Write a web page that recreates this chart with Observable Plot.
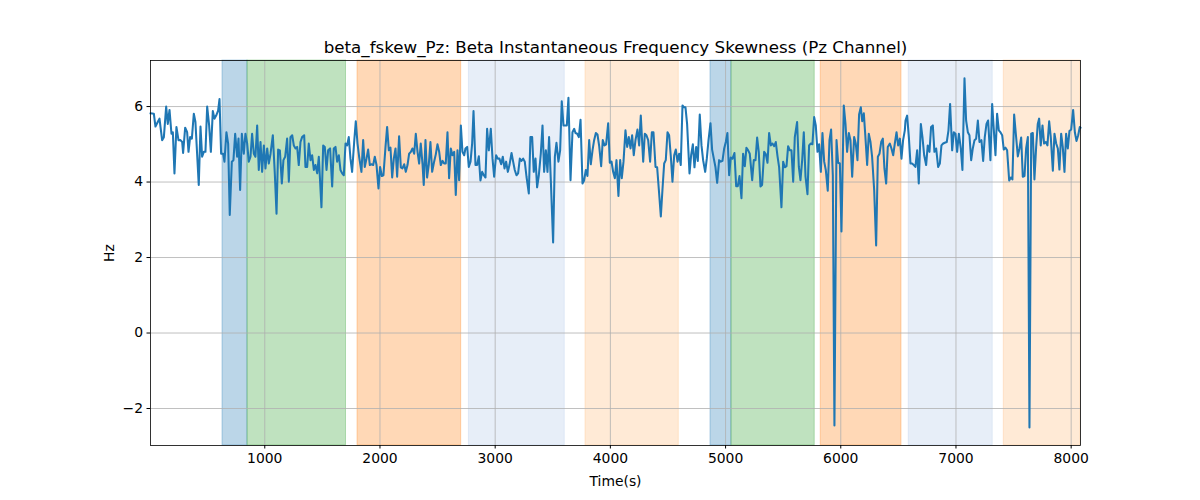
<!DOCTYPE html>
<html>
<head>
<meta charset="utf-8">
<script src="https://cdn.jsdelivr.net/npm/d3@7"></script>
<script src="https://cdn.jsdelivr.net/npm/@observablehq/plot@0.6"></script>
<style>
  html, body { margin: 0; padding: 0; background: white; }
  #chart svg { display: block; }
</style>
</head>
<body>
<div id="chart"></div>
<script>
const titleText = "beta_fskew_Pz: Beta Instantaneous Frequency Skewness (Pz Channel)";
const xLabel = "Time(s)";
const yLabel = "Hz";
const xTicks = [1000, 2000, 3000, 4000, 5000, 6000, 7000, 8000];
const yTicks = [-2, 0, 2, 4, 6];

const bandStart = [633, 850, 1805, 2772, 3784, 4869, 5051, 5826, 6590, 7415];
const bandEnd   = [850, 1705, 2705, 3604, 4594, 5051, 5774, 6527, 7319, 8081];
const bandState = ["S1", "S2", "S3", "S4", "S5", "S1", "S2", "S3", "S4", "S5"];
const stateNames = ["S1", "S2", "S3", "S4", "S5"];

const timeS = [
  8,37,51,71,86,109,124,144,158,173,190,202,216,233,251,268,283,291,309,326,338,352,367,384,398,427,442,456,471,485,500,517,532,549,563,578,595,607,621,639,650,667,682,696,714,728,743,760,772,786,801,818,832,847,861,876,890,905,919,
  934,948,963,977,992,1006,1021,1035,1050,1070,1087,1102,1116,1131,1148,1162,1177,1194,1209,1223,1238,1252,1267,1281,1295,1310,1324,1342,1353,1368,1382,1397,1411,1426,1440,1455,1469,1492,1507,1521,1536,1550,1567,1585,1599,1614,1628,1643,1657,1672,1686,1701,1715,1729,1744,1758,1776,1790,1805,1819,
  1839,1854,1868,1883,1897,1912,1926,1941,1955,1970,1987,2001,2016,2030,2048,2062,2077,2091,2106,2120,2135,2149,2166,2181,2195,2210,2224,2239,2253,2268,2282,2297,2311,2326,2340,2354,2369,2380,2395,2409,2424,2438,2453,2470,2485,2499,2514,2528,2543,2557,2571,2586,2600,2615,2629,2644,2658,2673,2687,2702,2716,2731,
  2742,2757,2771,2786,2800,2812,2829,2843,2858,2872,2887,2901,2916,2930,2945,2962,2977,2991,3008,3023,3037,3052,3066,3081,3095,3110,3124,3142,3156,3170,3185,3199,3214,3228,3243,3257,3272,3292,3306,3321,3335,3350,3364,3379,3396,3411,3425,3440,3454,3468,3483,3503,3518,3532,3549,3564,3578,3593,3607,3622,3636,3654,3671,3686,
  3697,3712,3726,3741,3758,3772,3787,3801,3816,3830,3845,3859,3874,3888,3903,3920,3934,3949,3963,3981,3995,4010,4024,4039,4053,4070,4085,4099,4114,4131,4146,4160,4175,4189,4203,4218,4235,4250,4264,4285,4299,4313,4328,4345,4360,4374,4392,4406,4421,4438,4452,4467,4481,4496,4510,4525,4539,4554,4568,4583,4597,4611,4626,4640,
  4652,4666,4687,4701,4716,4730,4745,4759,4776,4791,4805,4823,4837,4852,4869,4883,4898,4912,4927,4944,4959,4973,4988,5002,5016,5031,5045,5060,5077,5092,5106,5121,5138,5152,5167,5181,5196,5210,5231,5245,5260,5274,5288,5303,5317,5335,5349,5364,5378,5393,5407,5422,5436,5451,5465,5485,5500,5514,5529,5543,5558,5572,5587,5601,
  5621,5636,5650,5665,5679,5694,5711,5725,5740,5754,5769,5783,5798,5812,5827,5841,5856,5870,5887,5902,5916,5931,5945,5963,5977,5992,6006,6026,6041,6055,6070,6084,6099,6116,6130,6145,6159,6174,6186,6200,6214,6229,6243,6258,6272,6290,6307,6322,6336,6351,6365,6379,6394,6408,6426,6440,6455,6469,6484,6498,6513,6527,6541,6556,
  6562,6576,6591,6605,6619,6634,6648,6663,6677,6695,6709,6724,6741,6755,6770,6784,6799,6813,6828,6845,6860,6874,6889,6903,6920,6935,6949,6967,6981,6996,7010,7025,7042,7056,7074,7088,7103,7117,7132,7146,7161,7175,7190,7204,7221,7236,7250,7265,7279,7299,7314,7328,7343,7357,7372,7386,
  7401,7415,7430,7444,7462,7476,7490,7505,7519,7537,7551,7566,7580,7595,7609,7624,7638,7653,7667,7681,7696,7710,7722,7736,7751,7765,7780,7794,7809,7823,7841,7855,7870,7884,7898,7913,7927,7942,7956,7971,7985,8000,8017,8032,8046,8061,8075,8081
];

const skewHz = [
  5.82,5.81,5.47,5.59,5.68,5.11,5.19,6.00,5.54,5.91,5.28,5.32,4.23,5.46,5.11,5.11,5.06,4.77,5.44,5.32,4.80,5.19,5.15,5.81,5.59,3.92,5.47,4.67,4.80,4.80,6.00,5.50,4.80,5.88,5.68,5.76,5.89,6.20,4.75,4.75,4.54,5.32,5.02,3.13,4.54,4.58,5.28,4.67,5.15,3.79,5.28,4.75,5.28,5.02,4.54,4.67,5.28,4.75,4.67,
  5.50,4.32,5.06,4.27,4.97,4.36,4.89,4.49,4.75,5.24,4.23,3.16,4.86,4.84,3.96,4.58,4.67,5.15,4.01,5.19,5.24,4.97,4.89,4.93,4.45,5.06,5.19,5.24,4.40,4.40,5.02,4.58,4.71,4.32,4.45,4.23,4.67,3.33,4.97,4.93,4.32,4.84,4.89,3.88,4.89,4.93,4.54,4.71,4.32,4.23,4.18,5.02,4.97,5.19,4.62,4.27,5.06,5.61,5.02,4.67,
  4.27,5.11,4.40,4.62,4.86,4.45,4.47,4.45,4.67,4.45,3.83,4.40,4.16,4.18,4.93,5.46,4.84,4.91,4.12,4.62,4.89,4.14,5.21,4.39,4.36,4.47,4.27,4.45,4.75,4.80,4.89,4.75,5.28,4.80,4.49,5.02,4.49,3.92,5.11,4.12,4.47,5.06,4.27,4.54,4.74,5.00,4.80,4.45,4.56,4.49,4.49,5.32,4.10,4.89,4.71,4.80,3.66,4.84,4.05,5.50,4.80,4.71,
  4.89,4.93,4.40,4.54,5.02,5.88,4.45,4.45,4.68,4.04,4.27,4.18,4.12,5.41,4.84,5.41,4.62,4.14,4.71,4.62,4.62,4.47,4.67,4.36,4.54,4.27,4.45,4.77,4.54,4.32,4.18,4.23,4.62,4.56,4.62,4.54,4.14,3.70,5.19,5.19,4.27,4.62,3.86,4.18,4.75,5.50,4.27,4.84,4.27,5.19,4.05,2.40,4.67,5.04,4.54,4.84,6.14,5.50,5.50,5.50,6.23,4.05,5.32,5.41,
  5.30,5.28,5.19,5.65,3.96,4.04,4.32,4.16,5.11,4.47,4.84,5.11,5.30,5.26,4.95,4.42,5.11,4.97,5.00,5.56,4.51,4.54,4.27,4.10,4.58,3.63,4.58,4.10,4.54,5.37,4.93,5.19,4.89,5.24,4.71,5.11,5.39,4.97,5.76,4.54,5.28,5.24,5.11,4.54,5.32,5.32,4.40,4.39,3.79,3.09,3.79,4.49,4.58,5.32,5.24,4.67,4.01,4.71,4.86,4.54,4.75,4.45,6.03,5.98,
  5.98,5.54,4.23,4.71,5.00,4.39,4.93,4.56,5.79,4.97,4.58,4.27,4.62,5.11,5.56,4.86,4.62,4.40,3.98,4.58,4.54,4.56,4.89,5.06,5.30,4.18,4.65,4.62,4.77,3.89,3.89,4.16,3.57,4.75,4.42,4.91,4.84,4.75,4.05,4.58,4.58,5.18,4.80,3.88,3.92,4.80,4.74,4.51,5.30,4.97,5.02,4.95,5.06,4.68,4.39,3.33,4.54,4.39,4.42,4.95,4.84,4.84,4.01,5.19,
  5.59,4.40,4.05,4.58,5.32,4.14,3.68,4.97,5.02,5.00,5.72,5.50,4.80,5.00,4.27,5.30,4.54,4.32,3.77,5.11,5.39,4.18,-2.45,5.11,4.51,4.49,2.69,6.03,5.54,4.80,5.30,5.11,4.14,5.19,5.02,4.58,5.79,5.98,5.61,5.82,5.19,4.45,5.28,5.06,4.67,3.79,2.32,4.67,4.75,5.06,5.15,4.36,3.96,4.93,5.02,4.89,4.71,5.02,5.32,4.97,5.15,4.62,5.11,5.37,
  5.63,5.76,5.19,4.49,4.49,4.45,4.40,4.84,3.96,5.54,5.19,4.71,4.45,4.97,4.80,5.46,5.50,4.80,4.89,4.40,4.49,4.97,5.02,5.04,5.06,5.37,6.07,4.84,5.32,5.28,4.80,5.28,4.89,4.32,6.75,5.63,5.32,5.24,4.58,4.89,5.11,5.15,5.63,5.06,5.11,4.56,5.19,5.54,5.63,4.58,6.07,5.41,4.71,5.81,5.37,5.32,
  5.24,4.86,4.91,4.84,4.04,4.12,4.07,5.79,5.30,4.68,4.89,5.18,4.14,4.16,4.89,5.19,-2.50,5.28,5.30,4.07,4.93,5.54,5.68,4.97,5.50,5.02,5.06,4.97,5.61,5.19,4.30,5.28,5.02,4.89,4.33,5.28,4.93,4.27,5.28,4.89,5.35,5.39,5.91,5.32,5.09,5.24,5.46,5.44
];

const n = Math.min(timeS.length, skewHz.length);
const series = d3.range(n).map(i => ({t: timeS[i], v: skewHz[i]}));
const bands = bandStart.map((s, i) => ({start: s, end: bandEnd[i], state: bandState[i]}));

const minusFmt = d => (d < 0 ? "\u2212" + Math.abs(d) : String(d));

const chart = Plot.plot({
  width: 1200,
  height: 500,
  marginLeft: 150,
  marginRight: 120,
  marginTop: 60,
  marginBottom: 55,
  style: {fontFamily: "'DejaVu Sans', sans-serif", fontSize: "13.9px", background: "white", color: "black"},
  x: {domain: [8, 8081]},
  y: {domain: [-2.98, 7.22]},
  color: {domain: stateNames, range: ["#1f77b4", "#2ca02c", "#ff7f0e", "#aec7e8", "#ffbb78"]},
  marks: [
    Plot.rect(bands, {x1: "start", x2: "end", fill: "state", fillOpacity: 0.3, stroke: "state", strokeOpacity: 0.3, strokeWidth: 1}),
    Plot.gridX(xTicks, {stroke: "#b0b0b0", strokeOpacity: 1, strokeWidth: 0.8}),
    Plot.gridY(yTicks, {stroke: "#b0b0b0", strokeOpacity: 1, strokeWidth: 0.8}),
    Plot.line(series, {x: "t", y: "v", stroke: "#1f77b4", strokeWidth: 2.05}),
    Plot.frame({stroke: "black", strokeWidth: 0.8}),
    Plot.axisX(xTicks, {tickSize: 3.5, tickPadding: 4, tickFormat: minusFmt, label: xLabel, labelAnchor: "center", labelArrow: "none", labelOffset: 40}),
    Plot.axisY(yTicks, {tickSize: 3.5, tickPadding: 4, tickFormat: minusFmt, label: yLabel, labelAnchor: "center", labelArrow: "none", labelOffset: 46}),
    Plot.text([titleText], {frameAnchor: "top", dy: -8, lineAnchor: "bottom", fontSize: 16.7, text: d => d})
  ]
});
document.getElementById("chart").appendChild(chart);
</script>
</body>
</html>
